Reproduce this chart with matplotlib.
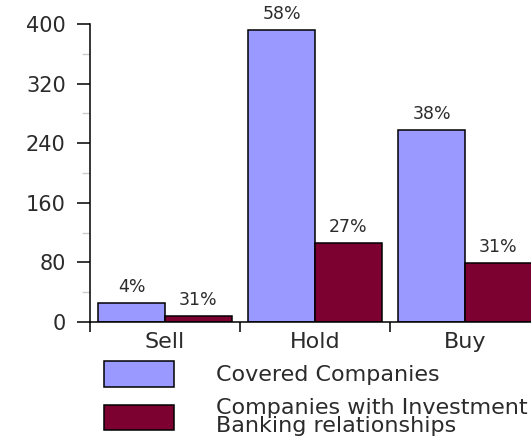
import matplotlib.pyplot as plt
import numpy as np
from matplotlib.ticker import FixedLocator, MultipleLocator

plt.rcParams["font.family"] = ["DejaVu Sans"]

CATEGORIES = ["Sell", "Hold", "Buy"]
COVERED = [25, 392, 258]
IB_RELATIONS = [8, 106, 79]
COVERED_PCT = ["4%", "58%", "38%"]
IB_PCT = ["31%", "27%", "31%"]
SERIES_NAMES = ["Covered Companies", "Companies with Investment\nBanking relationships"]

COVERED_COLOR = "#9999FF"
IB_COLOR = "#7C0030"
TEXT_COLOR = "#2b2b2b"

W, H = 531, 448
fig = plt.figure(figsize=(W / 100, H / 100), dpi=100)
ax = fig.add_axes([90 / W, 126 / H, 450 / W, 298 / H])

x = np.arange(len(CATEGORIES))
bw = 0.444
b1 = ax.bar(x - bw / 2, COVERED, bw, color=COVERED_COLOR, edgecolor="black", linewidth=1.1)
b2 = ax.bar(x + bw / 2, IB_RELATIONS, bw, color=IB_COLOR, edgecolor="black", linewidth=1.1)

for bars, labels in ((b1, COVERED_PCT), (b2, IB_PCT)):
    for rect, lab in zip(bars, labels):
        ax.annotate(lab, (rect.get_x() + rect.get_width() / 2, rect.get_height()),
                    xytext=(0, 5), textcoords="offset points", ha="center", va="bottom",
                    fontsize=12.5, color=TEXT_COLOR)

ax.set_xlim(-0.5, 2.5)
ax.set_ylim(0, 400)

for side in ("top", "right"):
    ax.spines[side].set_visible(False)
for side in ("left", "bottom"):
    ax.spines[side].set_linewidth(1.1)

# y axis: labelled ticks every 80, light minor ticks in between
ax.yaxis.set_major_locator(MultipleLocator(80))
ax.yaxis.set_minor_locator(FixedLocator(np.arange(40, 400, 80)))
ax.tick_params(axis="y", which="major", direction="out", length=9.5, width=1.1,
               pad=8, labelsize=15, labelcolor=TEXT_COLOR)
ax.tick_params(axis="y", which="minor", direction="out", length=6, width=1.0,
               color="#cccccc")

# x axis: category names centred, tick marks on the group boundaries
ax.set_xticks(x)
ax.set_xticklabels(CATEGORIES)
ax.xaxis.set_minor_locator(FixedLocator(np.arange(-0.5, 3, 1)))
ax.tick_params(axis="x", which="major", length=0, pad=7, labelsize=16, labelcolor=TEXT_COLOR)
ax.tick_params(axis="x", which="minor", direction="out", length=7, width=1.1)

leg = fig.legend([b1, b2], SERIES_NAMES, loc="upper left", bbox_to_anchor=(104 / W, 1 - 361 / H),
                 frameon=False, fontsize=16, handlelength=3.15, handleheight=1.4,
                 handletextpad=1.9, labelspacing=0.5, borderpad=0, borderaxespad=0,
                 labelcolor=TEXT_COLOR)
for t in leg.get_texts():
    t.set_linespacing(0.88)

fig.savefig("out.png", dpi=100)
